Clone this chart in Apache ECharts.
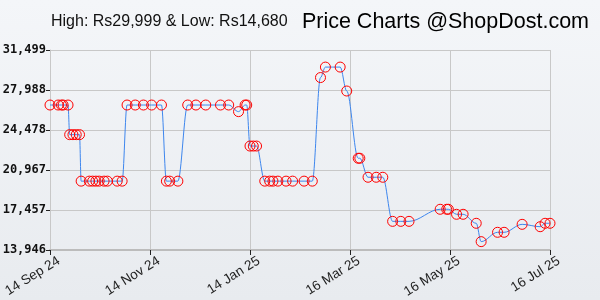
<!DOCTYPE html>
<html>
<head>
<meta charset="utf-8">
<script src="https://cdn.jsdelivr.net/npm/echarts@6/dist/echarts.min.js"></script>
<style>
    html, body { margin: 0; padding: 0; }
    #main { width: 600px; height: 300px; }
</style>
</head>
<body>
<div id="main"></div>
<script>
    // price history
    var dates = [
        '2024-09-14', '2024-09-19', '2024-09-21', '2024-09-22', '2024-09-25',
        '2024-09-26', '2024-09-28', '2024-09-30', '2024-10-02',
        '2024-10-03', '2024-10-08', '2024-10-10', '2024-10-12', '2024-10-14', '2024-10-17', '2024-10-19', '2024-10-25', '2024-10-28',
        '2024-10-31', '2024-11-05', '2024-11-10', '2024-11-15', '2024-11-21',
        '2024-11-24', '2024-11-26', '2024-12-01',
        '2024-12-07', '2024-12-12', '2024-12-18', '2024-12-27', '2025-01-01',
        '2025-01-07', '2025-01-11', '2025-01-12',
        '2025-01-14', '2025-01-16', '2025-01-18',
        '2025-01-23', '2025-01-26', '2025-01-28', '2025-01-31', '2025-02-05', '2025-02-09', '2025-02-16', '2025-02-21',
        '2025-02-26', '2025-03-01', '2025-03-10', '2025-03-14',
        '2025-03-21', '2025-03-22',
        '2025-03-27', '2025-04-01', '2025-04-05',
        '2025-04-11', '2025-04-16', '2025-04-21',
        '2025-05-10', '2025-05-14', '2025-05-15',
        '2025-05-20', '2025-05-24',
        '2025-06-01', '2025-06-04', '2025-06-14', '2025-06-18', '2025-06-29',
        '2025-07-10', '2025-07-13', '2025-07-16'
    ];
    var prices = [
        26670, 26670, 26670, 26670, 26670,
        24070, 24070, 24070, 24070,
        19990, 19990, 19990, 19990, 19990, 19990, 19990, 19990, 19990,
        26670, 26670, 26670, 26670, 26670,
        19990, 19990, 19990,
        26670, 26670, 26670, 26670, 26670,
        26090, 26670, 26670,
        23070, 23070, 23070,
        19990, 19990, 19990, 19990, 19990, 19990, 19990, 19990,
        29080, 29999, 29999, 27900,
        21999, 21999,
        20330, 20330, 20330,
        16460, 16460, 16460,
        17520, 17520, 17520,
        17080, 17080,
        16290, 14680, 15499, 15499, 16199,
        15990, 16290, 16290
    ];
    var xTicks = ['2024-09-14', '2024-11-14', '2025-01-14', '2025-03-16', '2025-05-16', '2025-07-16'];
    var yTicks = [13946, 17456.6, 20967.2, 24477.8, 27988.4, 31499];
    var monthNames = ['Jan','Feb','Mar','Apr','May','Jun','Jul','Aug','Sep','Oct','Nov','Dec'];

    function ts(s) {
        var p = s.split('-');
        return new Date(+p[0], +p[1] - 1, +p[2]).getTime();
    }
    function commas(v) {
        return String(Math.round(v)).replace(/\B(?=(\d{3})+(?!\d))/g, ',');
    }

    var seriesData = [];
    for (var i = 0; i < dates.length; i++) {
        seriesData.push([ts(dates[i]), prices[i]]);
    }
    var xTickVals = xTicks.map(ts);

    var mycharts = echarts.init(document.getElementById('main'));
    var option = {
        animation: false,
        backgroundColor: {
            type: 'linear', x: 0, y: 0, x2: 0, y2: 1,
            colorStops: [{offset: 0, color: '#f4f6f9'}, {offset: 1, color: '#e8ebef'}]
        },
        title: [
            {
                text: 'High: Rs29,999 & Low: Rs14,680',
                left: 46, top: 9,
                textStyle: {fontFamily: 'Liberation Sans', fontSize: 16, fontWeight: 'normal', color: '#111'}
            },
            {
                text: 'Price Charts @ShopDost.com',
                right: 6, top: 6,
                textStyle: {fontFamily: 'Liberation Sans', fontSize: 21.5, fontWeight: 'normal', color: '#000'}
            }
        ],
        grid: {left: 50, right: 50, top: 50, bottom: 50, outerBoundsMode: 'none', containLabel: false},
        xAxis: {
            type: 'value',
            min: xTickVals[0],
            max: xTickVals[xTickVals.length - 1],
            axisLine: {lineStyle: {color: '#bcbcbc', width: 2}},
            axisTick: {customValues: xTickVals, length: 5, lineStyle: {color: '#222'}},
            axisLabel: {
                customValues: xTickVals,
                rotate: 32,
                margin: 7,
                verticalAlign: 'top',
                padding: [0, -6, 0, 0],
                fontFamily: 'Liberation Sans',
                fontSize: 13.5,
                color: '#222',
                formatter: function (v) {
                    var d = new Date(v);
                    return d.getDate() + ' ' + monthNames[d.getMonth()] + ' ' + String(d.getFullYear()).slice(2);
                }
            },
            splitLine: {show: true, lineStyle: {color: '#c8c8c8'}}
        },
        yAxis: {
            type: 'value',
            min: yTicks[0],
            max: yTicks[yTicks.length - 1],
            axisLine: {show: true, lineStyle: {color: '#c8c8c8'}},
            axisTick: {show: true, customValues: yTicks, length: 4, lineStyle: {color: '#222'}},
            axisLabel: {
                customValues: yTicks,
                margin: 4,
                fontFamily: 'DejaVu Sans Mono',
                fontWeight: 'bold',
                fontSize: 12,
                color: '#111',
                formatter: function (v) { return commas(v); }
            },
            splitLine: {show: true, lineStyle: {color: '#c8c8c8'}}
        },
        series: [
            {
                type: 'line',
                data: seriesData,
                smooth: 0.35,
                smoothMonotone: 'x',
                symbol: 'circle',
                symbolSize: 10,
                lineStyle: {color: '#3d86ee', width: 1},
                itemStyle: {color: 'rgba(0,0,0,0)', borderColor: '#ff0000', borderWidth: 1}
            }
        ]
    };
    mycharts.setOption(option);
</script>
</body>
</html>
